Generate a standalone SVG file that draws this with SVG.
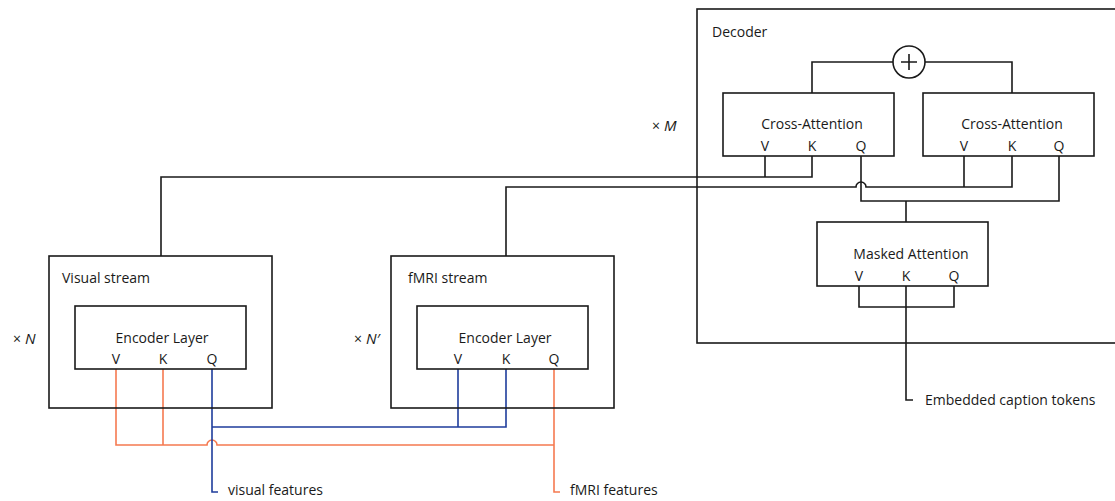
<svg xmlns="http://www.w3.org/2000/svg" width="1115" height="501" viewBox="0 0 1115 501">
<style>
.box{fill:none;stroke:#1a1a1a;stroke-width:1.6}
.w{fill:#fff;stroke:#1a1a1a;stroke-width:1.6}
.t{font-family:"Open Sans","Liberation Sans",sans-serif;font-size:14px;fill:#1a1a1a}
.c{text-anchor:middle}
.k{fill:none;stroke:#1a1a1a;stroke-width:1.6}
.o{fill:none;stroke:#f57a50;stroke-width:1.6}
.b{fill:none;stroke:#1f3d9c;stroke-width:1.6}
.i{font-style:italic;font-size:15px}
</style>
<rect width="1115" height="501" fill="#fff"/>
<g id="connectors">
<path class="k" d="M812 93V62H893M925 62H1012V93"/>
<path class="k" d="M765 156V177M812 156V177H161V256"/>
<path class="k" d="M1012 156V187H866A5 5 0 0 0 856 187H506V256M964 156V187"/>
<path class="k" d="M861 156V201H1059V156M906 201V222"/>
<path class="k" d="M859 286V307H954V286M906 286V400H913"/>
<path class="o" d="M116 369V445H207A5 5 0 0 1 217 445H554M163 369V445M554 369V492H560"/>
<path class="b" d="M212 369V492H218M212 427H506V369M458 369V427"/>
</g>
<g id="decoder">
<rect class="box" x="697" y="9" width="430" height="334"/>
<text class="t" x="712" y="37">Decoder</text>
<text class="t" x="652" y="131">×<tspan class="i" dx="4">M</tspan></text>
</g>
<g id="plus">
<circle class="w" cx="909" cy="62" r="16"/>
<path class="k" d="M901 62H917M909 54V70"/>
</g>
<g id="cross1">
<rect class="w" x="723" y="93" width="171" height="63"/>
<text class="t c" x="812" y="129">Cross-Attention</text>
<text class="t c" x="765" y="151">V</text>
<text class="t c" x="812" y="151">K</text>
<text class="t c" x="861" y="151">Q</text>
</g>
<g id="cross2">
<rect class="w" x="923" y="93" width="171" height="63"/>
<text class="t c" x="1012" y="129">Cross-Attention</text>
<text class="t c" x="964" y="151">V</text>
<text class="t c" x="1012" y="151">K</text>
<text class="t c" x="1059" y="151">Q</text>
</g>
<g id="masked">
<rect class="w" x="817" y="222" width="171" height="64"/>
<text class="t c" x="911" y="259">Masked Attention</text>
<text class="t c" x="859" y="281">V</text>
<text class="t c" x="906" y="281">K</text>
<text class="t c" x="954" y="281">Q</text>
</g>
<g id="tokens">
<text class="t" x="925" y="405">Embedded caption tokens</text>
</g>
<g id="visual">
<rect class="box" x="49" y="256" width="223" height="152"/>
<text class="t" x="62" y="283">Visual stream</text>
<text class="t" x="13" y="344">×<tspan class="i" dx="4">N</tspan></text>
<rect class="w" x="75" y="306" width="171" height="63"/>
<text class="t c" x="162" y="343">Encoder Layer</text>
<text class="t c" x="116" y="364">V</text>
<text class="t c" x="163" y="364">K</text>
<text class="t c" x="212" y="364">Q</text>
</g>
<g id="fmri">
<rect class="box" x="391" y="256" width="223" height="152"/>
<text class="t" x="408" y="283">fMRI stream</text>
<text class="t" x="354" y="344">×<tspan class="i" dx="4">N′</tspan></text>
<rect class="w" x="417" y="306" width="171" height="63"/>
<text class="t c" x="505" y="343">Encoder Layer</text>
<text class="t c" x="458" y="364">V</text>
<text class="t c" x="506" y="364">K</text>
<text class="t c" x="554" y="364">Q</text>
</g>
<g id="labels">
<text class="t" x="228" y="495">visual features</text>
<text class="t" x="570" y="495">fMRI features</text>
</g>
</svg>
